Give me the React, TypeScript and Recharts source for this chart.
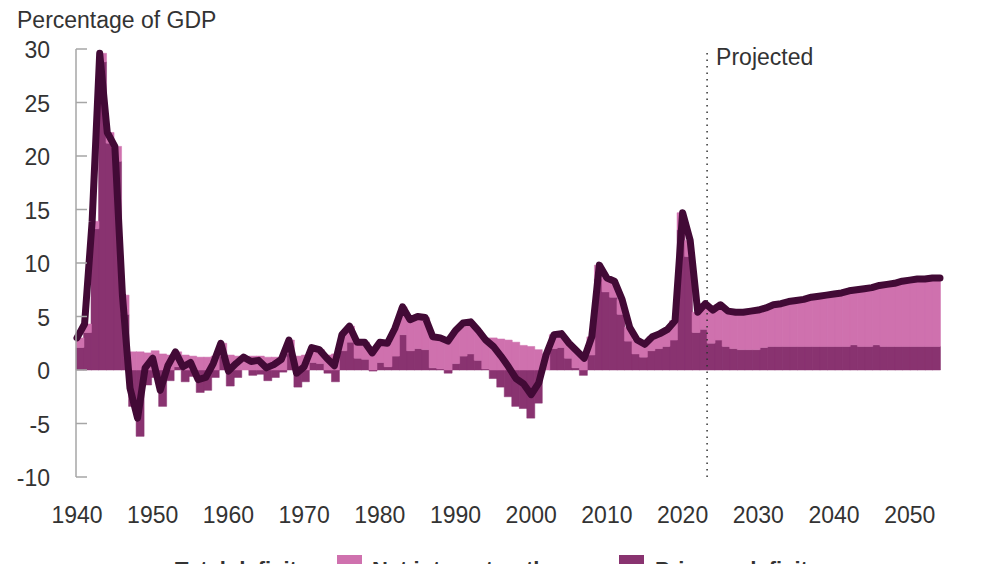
import React from "react"
import { ComposedChart, Bar, Line, XAxis, YAxis, ReferenceLine } from "recharts"

// Fiscal years 1940-2054 (history through 2023, projections after)
const firstYear = 1940
const lastYear = 2054
const projectionStart = 2024

// Total deficit, percentage of GDP
const totalDeficit = [
  3.0, 4.3, 13.9, 29.6, 22.2, 20.9, 7.0, -1.7, -4.5, 0.2,
  1.1, -1.9, 0.4, 1.7, 0.3, 0.7, -0.9, -0.7, 0.6, 2.5,
  -0.1, 0.6, 1.2, 0.8, 0.9, 0.2, 0.5, 1.0, 2.8, -0.3,
  0.3, 2.1, 1.9, 1.1, 0.4, 3.3, 4.1, 2.6, 2.6, 1.6,
  2.6, 2.5, 3.9, 5.9, 4.7, 5.0, 4.9, 3.1, 3.0, 2.7,
  3.7, 4.4, 4.5, 3.7, 2.8, 2.2, 1.3, 0.3, -0.8, -1.3,
  -2.3, -1.2, 1.5, 3.3, 3.4, 2.5, 1.8, 1.1, 3.1, 9.8,
  8.6, 8.3, 6.6, 4.0, 2.8, 2.4, 3.1, 3.4, 3.8, 4.6,
  14.7, 12.1, 5.4, 6.2, 5.6, 6.1, 5.5, 5.4, 5.4, 5.5,
  5.6, 5.8, 6.1, 6.2, 6.4, 6.5, 6.6, 6.8, 6.9, 7.0,
  7.1, 7.2, 7.4, 7.5, 7.6, 7.7, 7.9, 8.0, 8.1, 8.3,
  8.4, 8.5, 8.5, 8.6, 8.6,
]

// Net interest outlays
const netInterest = [
  0.9, 0.8, 0.7, 0.8, 1.0, 1.4, 1.8, 1.7, 1.7, 1.6,
  1.8, 1.5, 1.4, 1.4, 1.4, 1.3, 1.2, 1.2, 1.3, 1.2,
  1.4, 1.3, 1.2, 1.3, 1.3, 1.2, 1.2, 1.2, 1.3, 1.3,
  1.4, 1.4, 1.3, 1.4, 1.5, 1.5, 1.5, 1.5, 1.6, 1.7,
  1.9, 2.2, 2.6, 2.6, 2.9, 3.0, 3.0, 2.9, 2.9, 3.0,
  3.1, 3.1, 3.0, 2.8, 2.7, 3.0, 2.9, 2.8, 2.6, 2.3,
  2.2, 1.9, 1.5, 1.3, 1.3, 1.4, 1.6, 1.6, 1.7, 1.3,
  1.3, 1.5, 1.4, 1.3, 1.3, 1.2, 1.3, 1.4, 1.6, 1.8,
  1.6, 1.5, 1.9, 2.4, 3.1, 3.3, 3.3, 3.4, 3.5, 3.6,
  3.7, 3.7, 3.9, 4.0, 4.2, 4.3, 4.4, 4.6, 4.7, 4.8,
  4.9, 5.0, 5.2, 5.15, 5.4, 5.5, 5.55, 5.8, 5.9, 6.1,
  6.2, 6.3, 6.3, 6.4, 6.4,
]

// Primary deficit
const primaryDeficit = [
  2.1, 3.5, 13.2, 28.8, 21.2, 19.5, 5.2, -3.4, -6.2, -1.4,
  -0.7, -3.4, -1.0, 0.3, -1.1, -0.6, -2.1, -1.9, -0.7, 1.3,
  -1.5, -0.7, 0.0, -0.5, -0.4, -1.0, -0.7, -0.2, 1.5, -1.6,
  -1.1, 0.7, 0.6, -0.3, -1.1, 1.8, 2.6, 1.1, 1.0, -0.1,
  0.7, 0.3, 1.3, 3.3, 1.8, 2.0, 1.9, 0.2, 0.1, -0.3,
  0.6, 1.3, 1.5, 0.9, 0.1, -0.8, -1.6, -2.5, -3.4, -3.6,
  -4.5, -3.1, 0.0, 2.0, 2.1, 1.1, 0.2, -0.5, 1.4, 8.5,
  7.3, 6.8, 5.2, 2.7, 1.5, 1.2, 1.8, 2.0, 2.2, 2.8,
  13.1, 10.6, 3.5, 3.8, 2.5, 2.8, 2.2, 2.0, 1.9, 1.9,
  1.9, 2.1, 2.2, 2.2, 2.2, 2.2, 2.2, 2.2, 2.2, 2.2,
  2.2, 2.2, 2.2, 2.35, 2.2, 2.2, 2.35, 2.2, 2.2, 2.2,
  2.2, 2.2, 2.2, 2.2, 2.2,
]

const yTicks = [-10, -5, 0, 5, 10, 15, 20, 25, 30]
const xTicks = [1940, 1950, 1960, 1970, 1980, 1990, 2000, 2010, 2020, 2030, 2040, 2050]

const years = Array.from({ length: lastYear - firstYear + 1 }, (_, i) => firstYear + i)

const data = years.map((year, i) => ({
  year,
  total: totalDeficit[i],
  interest: netInterest[i],
  primary: primaryDeficit[i],
}))

const FONT = '"Liberation Sans", Arial, Helvetica, sans-serif'
const TEXT = "#333333"
const PINK = "#cf71ae"
const PURPLE = "#893370"
const LINE = "#420a36"
const AXIS = "#a6a6a6"

const YTick = ({ x, y, payload }: any) => (
  <g>
    <line x1={x} x2={x + 11} y1={y} y2={y} stroke={AXIS} strokeWidth={1.5} />
    <text x={x - 26} y={y} dy={9} textAnchor="end" fill={TEXT} fontSize={23} fontFamily={FONT}>
      {payload.value}
    </text>
  </g>
)

const XTick = ({ x, y, payload }: any) => (
  <text x={x} y={y} dy={46} textAnchor="middle" fill={TEXT} fontSize={23} fontFamily={FONT}>
    {payload.value}
  </text>
)

const ProjectedLabel = (props: any) => {
  const vb = props.viewBox || {}
  return (
    <text x={vb.x + 9} y={vb.y + 16} fill={TEXT} fontSize={23} fontFamily={FONT}>
      Projected
    </text>
  )
}

export default function App() {
  return (
    <div style={{ position: "relative", width: 960, height: 600, fontFamily: FONT }}>
      <div style={{ position: "absolute", left: 9, top: -1, fontSize: 23, color: TEXT, whiteSpace: "nowrap" }}>
        Percentage of GDP
      </div>
      <ComposedChart
        width={960}
        height={529}
        data={data}
        stackOffset="sign"
        barCategoryGap={0}
        barGap={0}
        margin={{ top: 41, right: 28, bottom: 0, left: 0 }}
      >
        <XAxis
          xAxisId="year"
          dataKey="year"
          type="number"
          domain={[firstYear, lastYear]}
          ticks={xTicks}
          padding={{ left: 1, right: 0 }}
          axisLine={false}
          tickLine={false}
          tickSize={0}
          tickMargin={0}
          height={60}
          tick={<XTick />}
          interval={0}
        />
        <XAxis xAxisId="band" dataKey="year" type="category" hide height={0} />
        <YAxis
          domain={[-10, 30]}
          ticks={yTicks}
          width={68}
          axisLine={{ stroke: AXIS, strokeWidth: 1.5 }}
          tickLine={false}
          tickSize={0}
          tickMargin={0}
          tick={<YTick />}
          interval={0}
        />
        <Bar
          xAxisId="band"
          dataKey="primary"
          stackId="deficit"
          fill={PURPLE}
          stroke={PURPLE}
          strokeWidth={0.5}
          isAnimationActive={false}
          name="Primary deficit"
        />
        <Bar
          xAxisId="band"
          dataKey="interest"
          stackId="deficit"
          fill={PINK}
          stroke={PINK}
          strokeWidth={0.5}
          isAnimationActive={false}
          name="Net interest outlays"
        />
        <ReferenceLine
          xAxisId="band"
          x={projectionStart}
          position="start"
          stroke="#333333"
          strokeWidth={1.5}
          strokeDasharray="1.5 5"
          label={<ProjectedLabel />}
        />
        <Line
          xAxisId="year"
          dataKey="total"
          type="linear"
          stroke={LINE}
          strokeWidth={7}
          strokeLinejoin="round"
          strokeLinecap="round"
          dot={false}
          activeDot={false}
          isAnimationActive={false}
          name="Total deficit"
        />
      </ComposedChart>
      <div style={{ position: "absolute", top: 548, left: 0, width: 960, height: 40, fontSize: 22, fontWeight: "bold", color: TEXT }}>
        <div style={{ position: "absolute", left: 126, top: 19, width: 34, height: 7, background: LINE }} />
        <div style={{ position: "absolute", left: 167, top: 1, whiteSpace: "nowrap" }}>Total deficit</div>
        <div style={{ position: "absolute", left: 329, top: -1, width: 25, height: 25, background: PINK }} />
        <div style={{ position: "absolute", left: 364, top: 1, whiteSpace: "nowrap" }}>Net interest outlays</div>
        <div style={{ position: "absolute", left: 611, top: -1, width: 25, height: 25, background: PURPLE }} />
        <div style={{ position: "absolute", left: 647, top: 1, whiteSpace: "nowrap" }}>Primary deficit</div>
      </div>
    </div>
  )
}
